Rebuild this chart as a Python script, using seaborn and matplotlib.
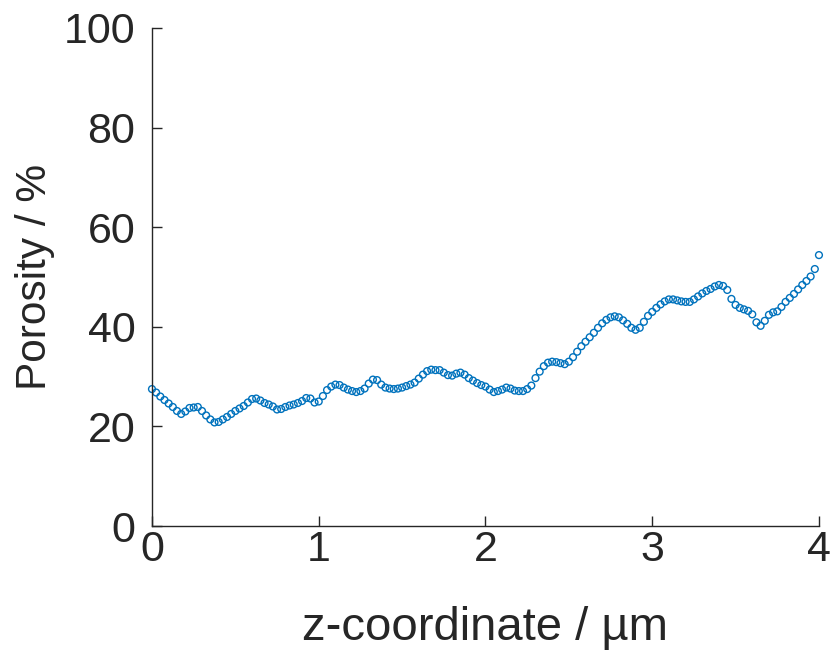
import numpy as np
import pandas as pd
import seaborn as sns
import matplotlib.pyplot as plt

# porosity profile, one value every 0.025 um
z_um = [round(0.025 * i, 3) for i in range(161)]
porosity = [
    27.5, 26.8, 26.0, 25.3, 24.6, 23.9, 23.1, 22.5, 23.0, 23.7,
    23.8, 23.9, 23.1, 22.2, 21.4, 20.8, 20.9, 21.4, 21.9, 22.5,
    23.1, 23.6, 24.1, 24.8, 25.5, 25.6, 25.2, 24.7, 24.4, 24.0,
    23.4, 23.5, 23.9, 24.2, 24.4, 24.7, 25.1, 25.7, 25.6, 24.8,
    25.0, 26.1, 27.3, 28.0, 28.4, 28.3, 27.8, 27.4, 27.1, 26.9,
    27.1, 27.6, 28.6, 29.4, 29.3, 28.4, 27.8, 27.6, 27.5, 27.6,
    27.8, 28.1, 28.4, 28.8, 29.6, 30.4, 31.1, 31.4, 31.3, 31.3,
    30.8, 30.3, 30.2, 30.6, 30.8, 30.4, 29.7, 29.2, 28.7, 28.3,
    28.0, 27.4, 26.9, 27.1, 27.4, 27.8, 27.6, 27.2, 27.1, 27.1,
    27.5, 28.2, 29.7, 31.0, 32.1, 32.8, 33.0, 32.9, 32.7, 32.5,
    33.0, 33.9, 35.0, 36.1, 37.0, 37.9, 38.8, 39.8, 40.7, 41.4,
    41.9, 42.1, 41.9, 41.3, 40.6, 39.8, 39.4, 39.8, 41.0, 42.2,
    43.0, 43.8, 44.5, 45.1, 45.5, 45.5, 45.3, 45.1, 45.0, 45.0,
    45.5, 46.1, 46.7, 47.2, 47.6, 48.1, 48.4, 48.2, 47.4, 45.6,
    44.4, 43.8, 43.5, 43.2, 42.5, 40.9, 40.2, 41.2, 42.4, 42.9,
    43.1, 44.0, 45.0, 45.8, 46.6, 47.5, 48.4, 49.2, 50.1, 51.6,
    54.4,
]
x_ticks = [0, 1, 2, 3, 4]
y_ticks = [0, 20, 40, 60, 80, 100]

df = pd.DataFrame({"z": z_um, "porosity": porosity})

sns.set_style("ticks")
plt.rcParams['font.family'] = ['Liberation Sans', 'DejaVu Sans']
text_col = '#262626'

fig = plt.figure(figsize=(8.3, 6.54), dpi=100)
ax = fig.add_axes([0.1831, 0.1957, 0.8036, 0.7615])

sns.scatterplot(data=df, x="z", y="porosity", ax=ax, marker='o', s=24,
                facecolor='none', edgecolor='#0072BD', linewidth=1.0,
                clip_on=False)

ax.set_xlim(0, 4)
ax.set_ylim(0, 100)
ax.set_xticks(x_ticks)
ax.set_yticks(y_ticks)
ax.tick_params(direction='in', length=7, width=1, colors=text_col,
               labelsize=31)
ax.tick_params(axis='y', pad=12)
ax.tick_params(axis='x', pad=3)
for lab in ax.get_xticklabels() + ax.get_yticklabels():
    lab.set_color(text_col)
sns.despine(ax=ax)
for side in ['left', 'bottom']:
    ax.spines[side].set_color(text_col)
    ax.spines[side].set_linewidth(1)

ax.set_xlabel("z-coordinate / µm", fontsize=34, color=text_col, labelpad=26)
ax.set_ylabel("Porosity / %", fontsize=30.5, color=text_col, labelpad=6)

fig.savefig("out.png", dpi=100)
